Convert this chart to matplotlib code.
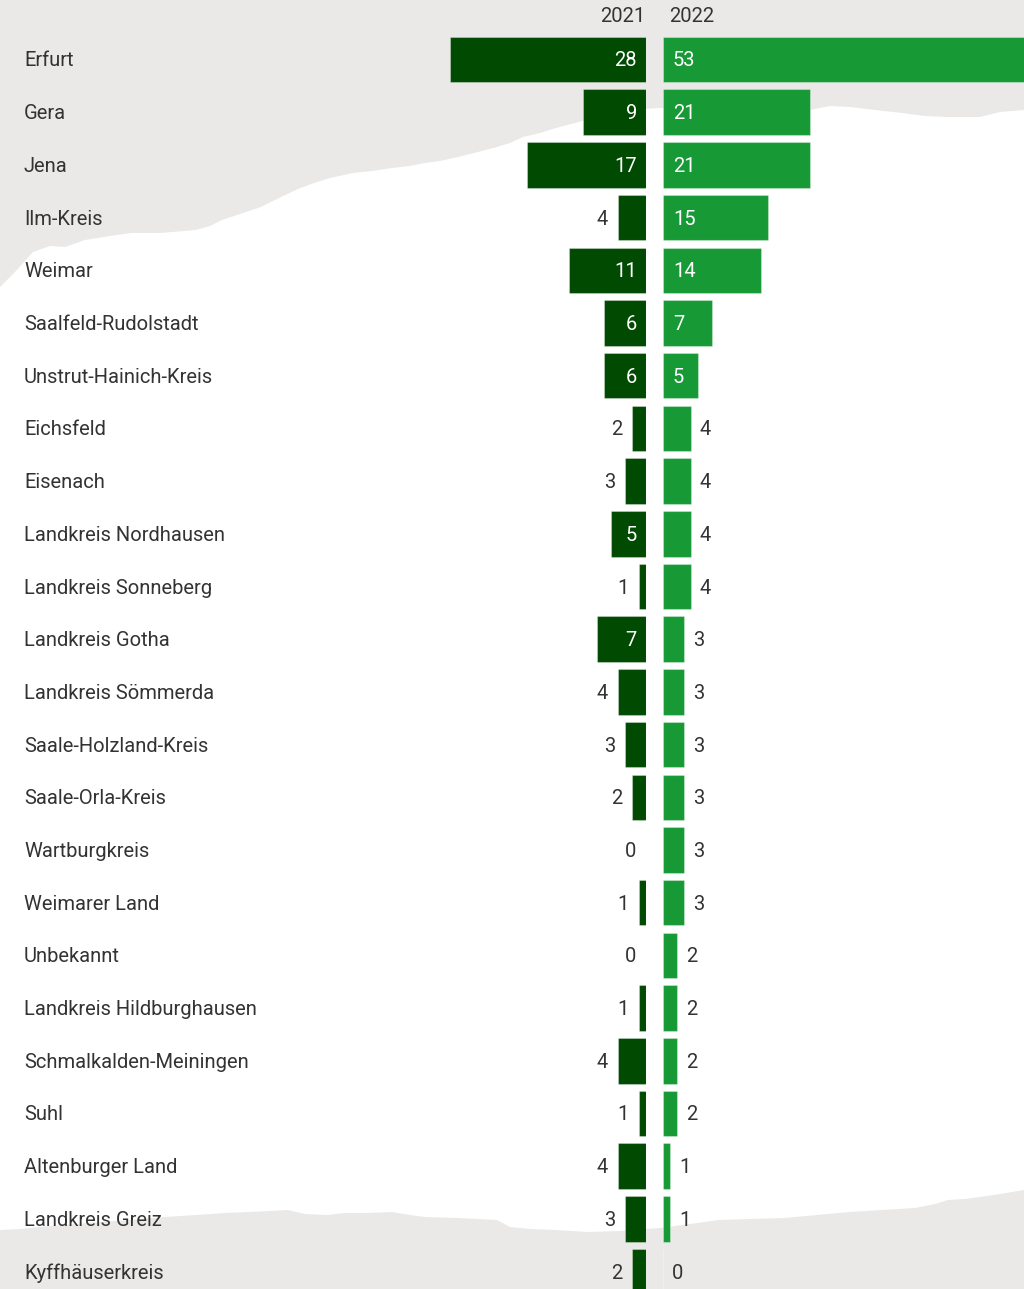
import matplotlib
matplotlib.use("Agg")
import matplotlib.pyplot as plt
from matplotlib import transforms
from matplotlib.patches import Polygon

plt.rcParams['font.family'] = ['Roboto', 'DejaVu Sans']

# Data
regions = ["Erfurt", "Gera", "Jena", "Ilm-Kreis", "Weimar", "Saalfeld-Rudolstadt",
           "Unstrut-Hainich-Kreis", "Eichsfeld", "Eisenach", "Landkreis Nordhausen",
           "Landkreis Sonneberg", "Landkreis Gotha", "Landkreis Sömmerda",
           "Saale-Holzland-Kreis", "Saale-Orla-Kreis", "Wartburgkreis", "Weimarer Land",
           "Unbekannt", "Landkreis Hildburghausen", "Schmalkalden-Meiningen", "Suhl",
           "Altenburger Land", "Landkreis Greiz", "Kyffhäuserkreis"]
values_2021 = [28, 9, 17, 4, 11, 6, 6, 2, 3, 5, 1, 7, 4, 3, 2, 0, 1, 0, 1, 4, 1, 4, 3, 2]
values_2022 = [53, 21, 21, 15, 14, 7, 5, 4, 4, 4, 4, 3, 3, 3, 3, 3, 3, 2, 2, 2, 2, 1, 1, 0]
years = ["2021", "2022"]

# Styling
W, H = 1024, 1289
DPI = 100
DARK = "#014a02"
LIGHT = "#179a36"
PAPER = "#ebe9e8"
TEXT = "#333333"
FS = 14.5
DY = -1.5  # small downward nudge for text, in pixels

fig = plt.figure(figsize=(W / DPI, H / DPI), dpi=DPI)
fig.patch.set_facecolor("white")

# Background layer in pixel coordinates with torn-paper grey areas
bg = fig.add_axes([0, 0, 1, 1])
bg.set_xlim(0, W)
bg.set_ylim(H, 0)
bg.axis("off")

top_edge = [(0, 287), (15, 272), (33, 252), (50, 246), (65, 247), (85, 240), (110, 236),
            (131, 233), (160, 233), (196, 230), (210, 226), (222, 220), (240, 214),
            (261, 207), (281, 197), (298, 189), (314, 183), (330, 178), (353, 173),
            (372, 171), (392, 168), (410, 166), (425, 163), (440, 161), (458, 157),
            (478, 152), (497, 147), (510, 143), (523, 137), (540, 133), (556, 128),
            (575, 123), (600, 116), (630, 110), (660, 108), (700, 109), (760, 110),
            (810, 110), (830, 106), (850, 107), (875, 110), (902, 113), (925, 116),
            (948, 117), (980, 117), (1000, 112), (1024, 110)]
top_poly = [(0, 0)] + top_edge + [(W, 0)]
bg.add_patch(Polygon(top_poly, closed=True, facecolor=PAPER, edgecolor="none"))

bottom_edge = [(0, 1230), (20, 1229), (39, 1227), (65, 1225), (100, 1222), (131, 1220),
               (165, 1217), (196, 1215), (225, 1213), (248, 1212), (270, 1211),
               (288, 1210), (305, 1214), (327, 1215), (345, 1213), (366, 1213),
               (392, 1212), (410, 1215), (425, 1217), (458, 1218), (497, 1220),
               (510, 1227), (530, 1229), (556, 1230), (588, 1232), (620, 1231),
               (660, 1228), (690, 1224), (719, 1220), (750, 1219), (784, 1218),
               (817, 1215), (850, 1212), (882, 1210), (915, 1208), (935, 1204),
               (948, 1200), (965, 1199), (980, 1197), (1000, 1194), (1024, 1190)]
bottom_poly = bottom_edge + [(W, H), (0, H)]
bg.add_patch(Polygon(bottom_poly, closed=True, facecolor=PAPER, edgecolor="none"))

# Layout of the two bar panels (pixel geometry)
PX_PER_UNIT = 7.0
LEFT_END = 646
RIGHT_START = 663
ROW0 = 59.5
ROW_STEP = 52.7
BAR_H = 0.864

n = len(regions)
y_top = -ROW0 / ROW_STEP
y_bot = (H - ROW0) / ROW_STEP

axL = fig.add_axes([0, 0, LEFT_END / W, 1])
axR = fig.add_axes([RIGHT_START / W, 0, (W - RIGHT_START) / W, 1])
axL.set_xlim(LEFT_END / PX_PER_UNIT, 0)
axR.set_xlim(0, (W - RIGHT_START) / PX_PER_UNIT)
for ax in (axL, axR):
    ax.set_ylim(y_bot, y_top)
    ax.axis("off")
    ax.patch.set_alpha(0)

ypos = list(range(n))
axL.barh(ypos, values_2021, height=BAR_H, color=DARK,
         edgecolor=(1, 1, 1, 0.3), linewidth=0.8)
axR.barh(ypos, values_2022, height=BAR_H, color=LIGHT,
         edgecolor=(1, 1, 1, 0.3), linewidth=0.8)

# Value labels: inside the bar when it is wide enough, otherwise beside it
for i, (a, b) in enumerate(zip(values_2021, values_2022)):
    if a >= 5:
        axL.annotate(str(a), (0, i), xytext=(-9, DY), textcoords="offset pixels",
                     ha="right", va="center", color="white", fontsize=FS)
    else:
        axL.annotate(str(a), (a, i), xytext=(-10, DY), textcoords="offset pixels",
                     ha="right", va="center", color=TEXT, fontsize=FS)
    if b >= 5:
        axR.annotate(str(b), (0, i), xytext=(10, DY), textcoords="offset pixels",
                     ha="left", va="center", color="white", fontsize=FS)
    else:
        axR.annotate(str(b), (b, i), xytext=(9, DY), textcoords="offset pixels",
                     ha="left", va="center", color=TEXT, fontsize=FS)

# Category labels
label_tf = transforms.blended_transform_factory(bg.transData, axL.transData)
for i, name in enumerate(regions):
    axL.annotate(name, (24, i), xycoords=label_tf, xytext=(0, DY),
                 textcoords="offset pixels", ha="left", va="center",
                 color=TEXT, fontsize=FS)

# Year headers
bg.text(645, 17, years[0], ha="right", va="center", color=TEXT, fontsize=FS)
bg.text(669, 17, years[1], ha="left", va="center", color=TEXT, fontsize=FS)

fig.savefig("out.png", dpi=DPI, facecolor=fig.get_facecolor())
